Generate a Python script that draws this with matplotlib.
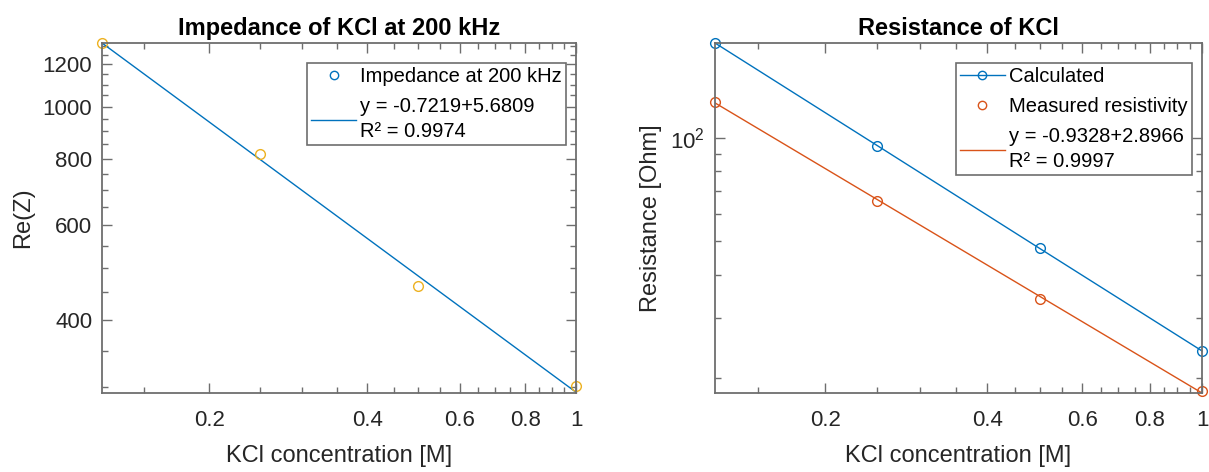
import matplotlib
matplotlib.use("Agg")
import matplotlib.pyplot as plt
from matplotlib.lines import Line2D
from matplotlib.ticker import FixedLocator, NullFormatter, FixedFormatter

plt.rcParams['font.family'] = ['Liberation Sans', 'DejaVu Sans']
plt.rcParams['mathtext.fontset'] = 'custom'
plt.rcParams['mathtext.rm'] = 'Liberation Sans'
plt.rcParams['mathtext.it'] = 'Liberation Sans'

# ---- data ----
conc = [0.125, 0.25, 0.5, 1.0]
impedance = [1313, 815, 463, 301]
imp_fit_x = [0.125, 1.0]
imp_fit_y = [1315, 293]

calculated = [189, 95, 47.7, 24.0]
measured = [127.6, 65.5, 34.0, 18.3]
res_fit_x = [0.125, 1.0]
res_fit_y = [126.5, 18.1]

x_major = [0.2, 0.4, 0.6, 0.8, 1.0]
x_major_labels = ['0.2', '0.4', '0.6', '0.8', '1']
x_minor = [0.15, 0.25, 0.3, 0.35, 0.45, 0.5, 0.55, 0.65, 0.7, 0.75, 0.85, 0.9, 0.95]
y1_major = [400, 600, 800, 1000, 1200]
y1_minor = [300, 350, 450, 500, 550, 650, 700, 750, 850, 900, 950, 1050, 1100, 1150, 1250, 1300]
y2_major = [100]
y2_minor = [20, 30, 40, 50, 60, 70, 80, 90]

BLUE = '#0072BD'
ORANGE = '#D95319'
YELLOW = '#EDB120'
AXC = '#6e6e6e'
TXT = '#262626'

W, H = 1209, 472
fig = plt.figure(figsize=(W / 100, H / 100), dpi=100)
ax1 = fig.add_axes([102 / W, 1 - 393 / H, (576 - 102) / W, (393 - 43) / H])
ax2 = fig.add_axes([715 / W, 1 - 393 / H, (1202 - 715) / W, (393 - 43) / H])


def style(ax):
    ax.set_xscale('log')
    ax.set_yscale('log')
    ax.set_xlim(0.125, 1.0)
    for s in ax.spines.values():
        s.set_color(AXC)
        s.set_linewidth(1.3)
    ax.tick_params(which='both', direction='in', top=True, right=True,
                   color=AXC, labelcolor=TXT, width=1.0, labelsize=16)
    ax.tick_params(which='major', length=7)
    ax.tick_params(which='minor', length=4)
    ax.tick_params(axis='x', which='major', pad=12.5)
    ax.tick_params(axis='y', which='major', pad=7)
    ax.xaxis.set_major_locator(FixedLocator(x_major))
    ax.xaxis.set_major_formatter(FixedFormatter(x_major_labels))
    ax.xaxis.set_minor_locator(FixedLocator(x_minor))
    ax.xaxis.set_minor_formatter(NullFormatter())
    ax.set_xlabel('KCl concentration [M]', fontsize=17, color=TXT, labelpad=10)


def make_legend(ax, handles, labels):
    leg = ax.legend(handles, labels, loc='upper right',
                    bbox_to_anchor=(0.979, 0.943), fontsize=14.5,
                    frameon=True, fancybox=False, edgecolor=AXC, framealpha=1,
                    handlelength=2.25, handletextpad=0.2, borderpad=0.2,
                    labelspacing=0.55, borderaxespad=0)
    leg.get_frame().set_linewidth(1.2)
    for t in leg.get_texts():
        t.set_linespacing(1.4)
    return leg


# ---- left ----
style(ax1)
ax1.plot(imp_fit_x, imp_fit_y, color=BLUE, lw=1.0)
ax1.plot(conc, impedance, linestyle='none', marker='o', markersize=7,
         markerfacecolor='none', markeredgecolor=YELLOW, markeredgewidth=1.0,
         clip_on=False)
ax1.set_ylim(292, 1315)
ax1.yaxis.set_major_locator(FixedLocator(y1_major))
ax1.yaxis.set_major_formatter(FixedFormatter([str(v) for v in y1_major]))
ax1.yaxis.set_minor_locator(FixedLocator(y1_minor))
ax1.yaxis.set_minor_formatter(NullFormatter())
ax1.set_ylabel('Re(Z)', fontsize=17, color=TXT, labelpad=6)
ax1.set_title('Impedance of KCl at 200 kHz', fontsize=17, fontweight='bold', pad=6)
h1 = [Line2D([], [], linestyle='none', marker='o', markersize=6,
             markerfacecolor='none', markeredgecolor=BLUE, markeredgewidth=1.0),
      Line2D([], [], color=BLUE, lw=1.0)]
make_legend(ax1, h1, ['Impedance at 200 kHz', 'y = -0.7219+5.6809\nR\u00b2 = 0.9974'])

# ---- right ----
style(ax2)
ax2.plot(conc, calculated, color=BLUE, lw=1.0, marker='o', markersize=7,
         markerfacecolor='none', markeredgewidth=1.0, clip_on=False)
ax2.plot(conc, measured, linestyle='none', marker='o', markersize=7,
         markerfacecolor='none', markeredgecolor=ORANGE, markeredgewidth=1.0,
         clip_on=False)
ax2.plot(res_fit_x, res_fit_y, color=ORANGE, lw=1.0)
ax2.set_ylim(18.1, 189)
ax2.yaxis.set_major_locator(FixedLocator(y2_major))
ax2.yaxis.set_major_formatter(FixedFormatter(['$10^2$']))
ax2.yaxis.set_minor_locator(FixedLocator(y2_minor))
ax2.yaxis.set_minor_formatter(NullFormatter())
ax2.set_ylabel('Resistance [Ohm]', fontsize=17, color=TXT, labelpad=6)
ax2.set_title('Resistance of KCl', fontsize=17, fontweight='bold', pad=6)
h2 = [Line2D([], [], color=BLUE, lw=1.0, marker='o', markersize=6,
             markerfacecolor='none', markeredgewidth=1.0),
      Line2D([], [], linestyle='none', marker='o', markersize=6,
             markerfacecolor='none', markeredgecolor=ORANGE, markeredgewidth=1.0),
      Line2D([], [], color=ORANGE, lw=1.0)]
make_legend(ax2, h2, ['Calculated', 'Measured resistivity',
                      'y = -0.9328+2.8966\nR\u00b2 = 0.9997'])

fig.savefig('out.png', dpi=100)
